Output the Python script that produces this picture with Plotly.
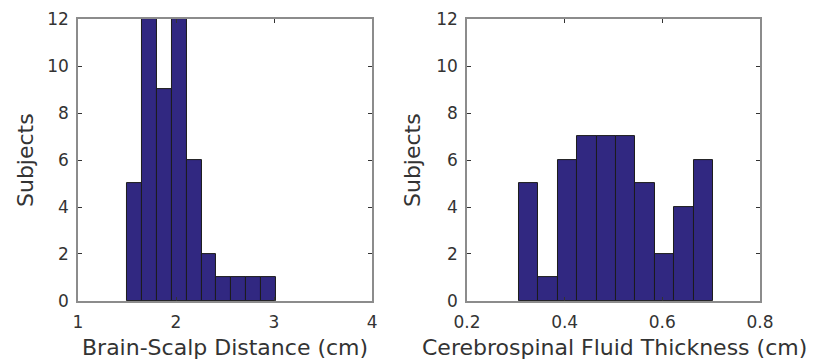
import plotly.graph_objects as go

# Brain-scalp distance histogram (cm)
bsd_bin_start = 1.5
bsd_bin_width = 0.152
bsd_counts = [5, 12, 9, 12, 6, 2, 1, 1, 1, 1]

# Cerebrospinal fluid thickness histogram (cm)
csf_bin_start = 0.306
csf_bin_width = 0.0398
csf_counts = [5, 1, 6, 7, 7, 7, 5, 2, 4, 6]

y_ticks = [0, 2, 4, 6, 8, 10, 12]
bsd_x_ticks = [1, 2, 3, 4]
csf_x_ticks = [0.2, 0.4, 0.6, 0.8]
csf_x_labels = ["0.2", "0.4", "0.6", "0.8"]

BAR = "#312881"
EDGE = "#1c1c1c"
AXIS = "#8c8c8c"
TEXT = "#333333"
FONT = "DejaVu Sans"
TITLE_SIZE = 22


def centers(start, width, n):
    return [start + width * (i + 0.5) for i in range(n)]


fig = go.Figure()
fig.add_trace(go.Bar(
    x=centers(bsd_bin_start, bsd_bin_width, len(bsd_counts)), y=bsd_counts,
    width=bsd_bin_width, marker=dict(color=BAR, line=dict(color=EDGE, width=1)),
    xaxis="x", yaxis="y", showlegend=False,
))
fig.add_trace(go.Bar(
    x=centers(csf_bin_start, csf_bin_width, len(csf_counts)), y=csf_counts,
    width=csf_bin_width, marker=dict(color=BAR, line=dict(color=EDGE, width=1)),
    xaxis="x2", yaxis="y2", showlegend=False,
))

common_axis = dict(
    showline=True, linecolor=AXIS, linewidth=1.5, mirror="ticks",
    ticks="inside", ticklen=4, tickcolor="#333333", tickwidth=1,
    showgrid=False, zeroline=False, automargin=False,
    tickfont=dict(family=FONT, size=17, color=TEXT),
)
x_axis = dict(common_axis, ticklabelstandoff=5)
y_axis = dict(common_axis, ticklabelstandoff=4)

Y_DOM = [0.164, 0.947]
X1_DOM = [0.0951, 0.4537]
X2_DOM = [0.5695, 0.9268]

fig.update_layout(
    width=820, height=360,
    margin=dict(l=0, r=0, t=0, b=0),
    paper_bgcolor="white", plot_bgcolor="white",
    bargap=0,
    xaxis=dict(domain=X1_DOM, range=[1, 4], tickvals=bsd_x_ticks,
               anchor="y", **x_axis),
    yaxis=dict(domain=Y_DOM, range=[0, 12], tickvals=y_ticks,
               anchor="x", **y_axis),
    xaxis2=dict(domain=X2_DOM, range=[0.2, 0.8], tickvals=csf_x_ticks,
                ticktext=csf_x_labels, anchor="y2", **x_axis),
    yaxis2=dict(domain=Y_DOM, range=[0, 12], tickvals=y_ticks,
                anchor="x2", **y_axis),
)

title_font = dict(family=FONT, size=TITLE_SIZE, color=TEXT)
y_mid = (Y_DOM[0] + Y_DOM[1]) / 2
for text, x in [("Brain-Scalp Distance (cm)", sum(X1_DOM) / 2),
                ("Cerebrospinal Fluid Thickness (cm)", 614 / 820)]:
    fig.add_annotation(text=text, x=x, y=13 / 360, xref="paper", yref="paper",
                       xanchor="center", yanchor="middle", showarrow=False,
                       font=title_font)
for x in [25 / 820, 412 / 820]:
    fig.add_annotation(text="Subjects", x=x, y=y_mid, xref="paper", yref="paper",
                       xanchor="center", yanchor="middle", showarrow=False,
                       textangle=-90, font=title_font)

fig.write_html("out.html")
